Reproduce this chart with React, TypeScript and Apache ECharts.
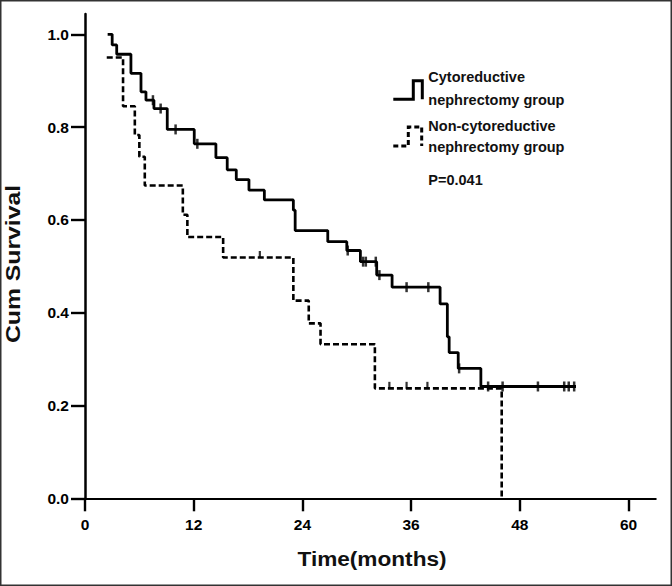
import React, { useEffect, useRef } from "react";
import * as echarts from "echarts";

const xTicks = [0, 12, 24, 36, 48, 60];
const yTicks = [0, 0.2, 0.4, 0.6, 0.8, 1.0];

// Cytoreductive nephrectomy group (solid)
const cytoTimes = [2.5, 3.0, 3.5, 5.07, 6.18, 6.73, 7.61, 9.08, 12.06, 14.45, 15.7, 16.7, 18.1, 19.8, 23.0, 23.2, 26.8, 28.9, 30.4, 32.2, 33.9, 39.2, 40.0, 40.2, 41.2, 43.7, 54.2];
const cytoSurv = [1.0, 0.977, 0.957, 0.916, 0.876, 0.858, 0.84, 0.795, 0.764, 0.734, 0.708, 0.687, 0.664, 0.643, 0.621, 0.577, 0.553, 0.534, 0.51, 0.481, 0.455, 0.419, 0.348, 0.314, 0.28, 0.241, 0.241];
const cytoCensor = [7.5, 8.35, 10.0, 12.4, 29.0, 30.7, 31.0, 32.1, 32.5, 35.5, 37.9, 41.3, 44.5, 46.1, 50.0, 52.9, 53.4, 54.0];

// Non-cytoreductive nephrectomy group (dashed)
const nonTimes = [2.4, 4.2, 5.5, 6.0, 6.6, 10.8, 11.3, 15.25, 23.0, 24.7, 26.0, 32.0, 46.0];
const nonSurv = [0.95, 0.845, 0.783, 0.736, 0.674, 0.611, 0.563, 0.519, 0.426, 0.377, 0.332, 0.237, 0.0];
const nonCensor = [19.3, 33.6, 35.5, 37.8];

const legendLabels = ["Cytoreductive", "nephrectomy group", "Non-cytoreductive", "nephrectomy group"];
const pValueText = "P=0.041";
const xTitle = "Time(months)";
const yTitle = "Cum Survival";

function survAt(times: number[], surv: number[], t: number): number {
  let v = surv[0];
  for (let i = 0; i < times.length; i++) {
    if (times[i] <= t) v = surv[i];
  }
  return v;
}

const FONT = '"Liberation Sans", Arial, Helvetica, sans-serif';

export default function App() {
  const ref = useRef<HTMLDivElement>(null);
  useEffect(() => {
    if (!ref.current) return;
    const chart = echarts.init(ref.current, undefined, { renderer: "svg" });
    const cytoData = cytoTimes.map((t, i) => [t, cytoSurv[i]]);
    const nonData = nonTimes.map((t, i) => [t, nonSurv[i]]);
    const cytoCData = cytoCensor.map((t) => [t, survAt(cytoTimes, cytoSurv, t)]);
    const nonCData = nonCensor.map((t) => [t, survAt(nonTimes, nonSurv, t)]);

    const txt = (x: number, y: number, text: string, size: number, extra: any = {}) => ({
      type: "text",
      x,
      y,
      ...extra,
      style: {
        text,
        fill: "#111",
        font: `bold ${size}px ${FONT}`,
        textAlign: extra.align || "left",
        textVerticalAlign: "middle",
      },
    });

    const option: any = {
      animation: false,
      backgroundColor: "#fff",
      grid: { left: 85, right: 16.3, top: 14, bottom: 87.7, containLabel: false },
      xAxis: {
        type: "value",
        min: 0,
        max: 63,
        axisLine: { show: true, lineStyle: { color: "#000", width: 2.2 } },
        axisTick: { show: true, customValues: xTicks, length: 13, lineStyle: { color: "#000", width: 2.4 } },
        axisLabel: {
          customValues: xTicks,
          color: "#000",
          fontSize: 15.5,
          fontWeight: "bold",
          fontFamily: FONT,
          margin: 18,
        },
        splitLine: { show: false },
      },
      yAxis: {
        type: "value",
        min: 0,
        max: 484.3 / 464,
        axisLine: { show: true, lineStyle: { color: "#000", width: 2.5 } },
        axisTick: { show: true, customValues: yTicks, length: 14, lineStyle: { color: "#000", width: 2.4 } },
        axisLabel: {
          customValues: yTicks,
          formatter: (v: number) => v.toFixed(1),
          color: "#000",
          fontSize: 15.5,
          fontWeight: "bold",
          fontFamily: FONT,
          margin: 16,
        },
        splitLine: { show: false },
      },
      series: [
        {
          name: "Cytoreductive nephrectomy group",
          type: "line",
          step: "end",
          data: cytoData,
          symbol: "none",
          lineStyle: { color: "#000", width: 2.8 },
          z: 3,
        },
        {
          name: "Non-cytoreductive nephrectomy group",
          type: "line",
          step: "end",
          data: nonData,
          symbol: "none",
          lineStyle: { color: "#000", width: 2.6, type: [6, 3] },
          z: 2,
        },
        {
          type: "scatter",
          data: cytoCData,
          symbol: "rect",
          symbolSize: [2.5, 10],
          itemStyle: { color: "#000" },
          z: 4,
        },
        {
          type: "scatter",
          data: nonCData,
          symbol: "rect",
          symbolSize: [2.2, 7],
          symbolOffset: [0, -3],
          itemStyle: { color: "#000" },
          z: 4,
        },
      ],
      graphic: [
        {
          type: "rect",
          shape: { x: 0.75, y: 0.75, width: 670.5, height: 584.5 },
          style: { fill: "none", stroke: "#333", lineWidth: 1.5 },
          silent: true,
        },
        {
          type: "polyline",
          shape: { points: [[393.3, 99.3], [413.3, 99.3], [413.3, 80.7], [422.3, 80.7], [422.3, 99.3]] },
          style: { fill: "none", stroke: "#000", lineWidth: 3 },
        },
        {
          type: "polyline",
          shape: { points: [[393.3, 146], [408.3, 146], [408.3, 127], [421.7, 127], [421.7, 146]] },
          style: { fill: "none", stroke: "#000", lineWidth: 3, lineDash: [5, 3] },
        },
        txt(428.3, 77, legendLabels[0], 14.5),
        txt(428.3, 99.5, legendLabels[1], 14.5),
        txt(428.3, 125.7, legendLabels[2], 14.5),
        txt(428.3, 146.5, legendLabels[3], 14.5),
        txt(428.3, 180, pValueText, 14.5),
        txt(372, 559.5, xTitle, 19.5, { align: "center", scaleX: 1.16 }),
        txt(13, 264, yTitle, 19.5, { align: "center", rotation: Math.PI / 2, scaleX: 1.27 }),
      ],
    };
    chart.setOption(option);
    return () => chart.dispose();
  }, []);
  return (
    <div
      ref={ref}
      style={{ position: "absolute", left: 0, top: 0, width: 672, height: 586, background: "#fff" }}
    />
  );
}
